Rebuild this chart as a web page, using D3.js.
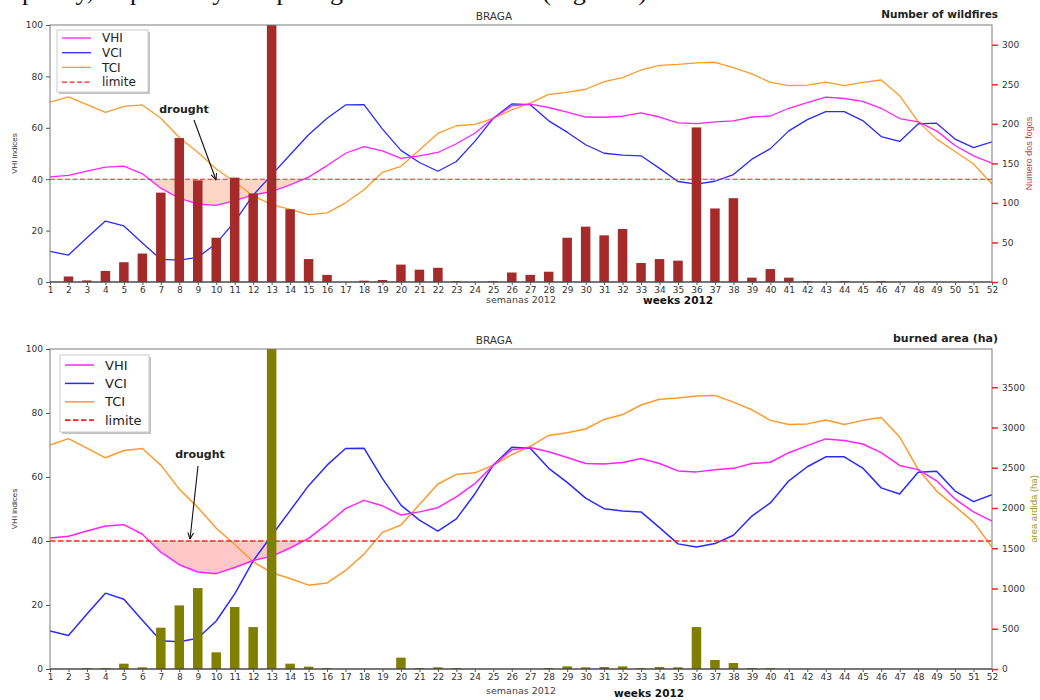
<!DOCTYPE html>
<html>
<head>
<meta charset="utf-8">
<script src="https://cdn.jsdelivr.net/npm/d3@7"></script>
<style>
  html, body { margin: 0; padding: 0; background: #fff; }
  svg { display: block; }
</style>
</head>
<body>
<svg id="chart" width="1040" height="700"></svg>
<script>
// ---------------- data ----------------
const weeks = [1,2,3,4,5,6,7,8,9,10,11,12,13,14,15,16,17,18,19,20,21,22,23,24,25,26,
               27,28,29,30,31,32,33,34,35,36,37,38,39,40,41,42,43,44,45,46,47,48,49,50,51,52];
const vhi = [40.9,41.5,43.1,44.7,45.1,42.1,36.5,32.6,30.3,29.8,
             31.7,33.9,35.2,37.8,40.8,45.3,50.1,52.7,51.0,48.1,
             49.1,50.4,53.8,57.9,63.7,68.5,69.2,67.9,66.1,64.2,
             64.1,64.5,65.8,64.2,61.9,61.6,62.3,62.7,64.2,64.6,
             67.6,69.8,71.9,71.4,70.3,67.6,63.6,62.3,58.8,53.1,
             49.1,46.2];
const vci = [11.9,10.5,17.2,23.7,21.8,15.2,8.8,8.5,9.6,15.0,
             23.5,33.8,41.7,49.5,57.3,63.7,68.9,69.0,59.5,51.2,
             46.5,43.1,46.9,54.7,63.7,69.3,69.0,62.7,58.3,53.4,
             50.1,49.4,49.1,44.2,39.1,38.1,39.2,41.8,47.8,51.9,
             58.8,63.2,66.3,66.3,62.8,56.6,54.7,61.5,61.8,55.6,
             52.3,54.5];
const tci = [70.0,72.0,69.0,66.0,68.3,68.9,63.7,56.2,50.5,44.0,
             38.9,33.5,30.1,28.3,26.2,26.9,30.8,35.9,42.7,45.0,
             51.4,57.8,60.8,61.3,63.7,67.0,69.6,73.0,73.8,75.0,
             78.0,79.5,82.5,84.3,84.7,85.3,85.5,83.4,81.0,77.7,
             76.4,76.6,77.8,76.4,77.7,78.6,72.5,62.4,55.6,50.8,
             45.9,38.1];
const limite = 40;
const fires = [0,7,2,14,25,36,113,182,128.5,56,
               132,112,340,92,29,9,0,1.7,2.5,22,
               15.6,18,1,0,1,12,9,13,56,70,
               59,67,24,29,27,195.5,93,106,5.5,16.4,
               5.5,1.3,0,1.3,0,1.3,0,0,0,0,
               0,0];
const burned = [0,0,12,12,66,21,513,790,1005,207,
                770,521,4100,66,29,12,0,0,0,141,
                12,21,12,0,0,0,0,12,33,21,
                25,33,12,25,21,521,112,74,12,12,
                0,0,0,0,0,0,0,0,0,0,
                0,0];
const indexTicks = [0,20,40,60,80,100];
const fireTicks = [0,50,100,150,200,250,300];
const burnedTicks = [0,500,1000,1500,2000,2500,3000,3500];
const legendLabels = ["VHI","VCI","TCI","limite"];

// ---------------- drawing ----------------
const svg = d3.select("#chart");
const FONT = "DejaVu Sans, Verdana, sans-serif";
const C = { vhi: "#ff22ff", vci: "#2a2aff", tci: "#ff9a2a", lim: "#ff2020" };

// cropped document text above the figure (only descenders visible in the source)
svg.append("text")
  .attr("x", 22).attr("y", 0)
  .attr("font-family", "Liberation Serif, Times New Roman, serif")
  .attr("font-size", 26)
  .attr("fill", "#111")
  .text("plicity, respectively comparing the two indicators (Figure 4)");

function panel(cfg, idx) {
  const g = svg.append("g");
  const x = d3.scaleLinear().domain([1, 52]).range([50, 992]);
  const y = d3.scaleLinear().domain([0, 100]).range([cfg.bot, cfg.top]);
  const y2 = d3.scaleLinear().domain([0, cfg.rMax]).range([cfg.bot, cfg.top]);

  const clipId = "clip" + idx;
  g.append("clipPath").attr("id", clipId).append("rect")
    .attr("x", 50).attr("y", cfg.top).attr("width", 942).attr("height", cfg.bot - cfg.top);
  const fillClip = "fclip" + idx;
  g.append("clipPath").attr("id", fillClip).append("rect")
    .attr("x", 50).attr("y", y(limite)).attr("width", 942).attr("height", cfg.bot - y(limite));

  const plot = g.append("g").attr("clip-path", `url(#${clipId})`);

  // drought fill between VHI and limite
  const area = d3.area().x((d, i) => x(weeks[i])).y0(y(limite)).y1(d => y(d));
  plot.append("g").attr("clip-path", `url(#${fillClip})`)
    .append("path").datum(vhi).attr("d", area).attr("fill", cfg.fill);

  const line = d3.line().x((d, i) => x(weeks[i])).y(d => y(d));
  [["tci", tci], ["vci", vci], ["vhi", vhi]].forEach(([k, arr]) => {
    plot.append("path").datum(arr).attr("d", line)
      .attr("fill", "none").attr("stroke", C[k]).attr("stroke-width", cfg.lw)
      .attr("stroke-linejoin", "round");
  });
  plot.append("line").attr("x1", 50).attr("x2", 992)
    .attr("y1", y(limite)).attr("y2", y(limite))
    .attr("stroke", C.lim).attr("stroke-width", cfg.dlw).attr("stroke-dasharray", cfg.dash);

  // bars (secondary axis)
  const bw = 9.5;
  plot.append("g").selectAll("rect").data(cfg.bars).join("rect")
    .attr("x", (d, i) => x(weeks[i]) - bw / 2)
    .attr("width", bw)
    .attr("y", d => y2(d))
    .attr("height", d => y2(0) - y2(d))
    .attr("fill", cfg.barColor);

  // spines
  const sp = "#7a7a7a";
  g.append("rect").attr("x", 50).attr("y", cfg.top).attr("width", 942).attr("height", cfg.bot - cfg.top)
    .attr("fill", "none").attr("stroke", sp).attr("stroke-width", 1);
  g.append("line").attr("x1", 50).attr("x2", 992).attr("y1", cfg.bot).attr("y2", cfg.bot)
    .attr("stroke", "#333").attr("stroke-width", 1.2);

  // left axis
  const la = d3.axisLeft(y).tickValues(indexTicks).tickFormat(d3.format("d")).tickSize(4).tickPadding(3);
  const lg = g.append("g").attr("transform", "translate(50,0)").call(la);
  lg.select(".domain").remove();
  lg.selectAll("line").attr("stroke", "#555");
  lg.selectAll("text").attr("font-family", FONT).attr("font-size", 9).attr("fill", "#333");

  // bottom axis
  const ba = d3.axisBottom(x).tickValues(weeks).tickFormat(d3.format("d")).tickSize(3).tickPadding(2);
  const bg = g.append("g").attr("transform", `translate(0,${cfg.bot})`).call(ba);
  bg.select(".domain").remove();
  bg.selectAll("line").attr("stroke", "#555");
  bg.selectAll("text").attr("font-family", FONT).attr("font-size", 9).attr("fill", "#333");

  // right axis
  const ra = d3.axisRight(y2).tickValues(cfg.rTicks).tickFormat(d3.format("d")).tickSize(6).tickPadding(4);
  const rg = g.append("g").attr("transform", "translate(992,0)").call(ra);
  rg.select(".domain").remove();
  rg.selectAll("line").attr("stroke", "#ff2020").attr("stroke-width", 1.5);
  rg.selectAll("text").attr("font-family", FONT).attr("font-size", 9).attr("fill", "#333");

  // titles and labels
  g.append("text").attr("x", 494).attr("y", cfg.top - 5).attr("text-anchor", "middle")
    .attr("font-family", FONT).attr("font-size", 10.5).attr("fill", "#333").text("BRAGA");
  g.append("text").attr("x", 998).attr("y", cfg.top - 7).attr("text-anchor", "end")
    .attr("font-family", FONT).attr("font-size", cfg.rtSize).attr("font-weight", "bold")
    .attr("fill", "#222").text(cfg.rTitle);
  g.append("text").attr("x", 521).attr("y", cfg.semY).attr("text-anchor", "middle")
    .attr("font-family", FONT).attr("font-size", 9.5).attr("fill", "#444").text("semanas 2012");
  g.append("text").attr("x", cfg.wkX).attr("y", cfg.wkY)
    .attr("font-family", FONT).attr("font-size", 10.5).attr("font-weight", "bold")
    .attr("fill", "#111").text("weeks 2012");
  const mid = (cfg.top + cfg.bot) / 2;
  g.append("text").attr("transform", `translate(17,${mid}) rotate(-90)`).attr("text-anchor", "middle")
    .attr("font-family", "Liberation Sans, Arial, sans-serif").attr("font-size", 8)
    .attr("fill", "#333").text("VHI indices");
  g.append("text").attr("transform", `translate(${cfg.rlX},${mid}) rotate(-90)`).attr("text-anchor", "middle")
    .attr("font-family", "Liberation Sans, Arial, sans-serif").attr("font-size", cfg.rlSize)
    .attr("fill", cfg.rlColor).text(cfg.rLabel);

  // drought annotation
  g.append("text").attr("x", cfg.dr.tx).attr("y", cfg.dr.ty).attr("text-anchor", "middle")
    .attr("font-family", FONT).attr("font-size", 11).attr("font-weight", "bold")
    .attr("fill", "#222").text("drought");
  const [x1, y1, x2, y2a] = cfg.dr.arrow;
  g.append("line").attr("x1", x1).attr("y1", y1).attr("x2", x2).attr("y2", y2a)
    .attr("stroke", "#111").attr("stroke-width", 1.1);
  const ang = Math.atan2(y2a - y1, x2 - x1);
  const hl = 7, ha = 0.42;
  [ang + Math.PI - ha, ang + Math.PI + ha].forEach(a => {
    g.append("line").attr("x1", x2).attr("y1", y2a)
      .attr("x2", x2 + hl * Math.cos(a)).attr("y2", y2a + hl * Math.sin(a))
      .attr("stroke", "#111").attr("stroke-width", 1.1);
  });

  // legend
  const L = cfg.leg;
  g.append("rect").attr("x", L.x + 2).attr("y", L.y + 2).attr("width", L.w).attr("height", L.h)
    .attr("fill", "#999").attr("opacity", 0.6);
  g.append("rect").attr("x", L.x).attr("y", L.y).attr("width", L.w).attr("height", L.h)
    .attr("fill", "#fff").attr("stroke", "#ccc").attr("stroke-width", 1);
  const legColors = [C.vhi, C.vci, C.tci, C.lim];
  legendLabels.forEach((lab, i) => {
    const ry = L.y + L.r0 + i * L.dy;
    g.append("line").attr("x1", L.x + 5).attr("x2", L.x + 34).attr("y1", ry).attr("y2", ry)
      .attr("stroke", legColors[i]).attr("stroke-width", i === 3 ? cfg.dlw : cfg.lw)
      .attr("stroke-dasharray", i === 3 ? cfg.dash : null);
    g.append("text").attr("x", L.x + 45).attr("y", ry).attr("dy", "0.36em")
      .attr("font-family", FONT).attr("font-size", L.fs).attr("fill", "#222").text(lab);
  });
}

panel({
  top: 25, bot: 282, rMax: 325, rTicks: fireTicks, bars: fires, barColor: "#a52a2a",
  fill: "#fdd6c6", lw: 1.3, dlw: 1.1, dash: "5,2.5",
  rTitle: "Number of wildfires", rtSize: 10.5,
  rLabel: "Numero dos fogos", rlColor: "#b04848", rlSize: 9, rlX: 1032,
  semY: 303, wkX: 643, wkY: 304,
  dr: { tx: 184, ty: 113, arrow: [194, 120, 216, 180] },
  leg: { x: 57, y: 30, w: 91, h: 62, r0: 8, dy: 14.7, fs: 12 }
}, 0);

panel({
  top: 349, bot: 669, rMax: 3975, rTicks: burnedTicks, bars: burned, barColor: "#808000",
  fill: "#ffc8c8", lw: 1.5, dlw: 1.7, dash: "5.5,2.5",
  rTitle: "burned area (ha)", rtSize: 11,
  rLabel: "area ardida (ha)", rlColor: "#9a9a28", rlSize: 9.5, rlX: 1037,
  semY: 694, wkX: 614, wkY: 697,
  dr: { tx: 200, ty: 458, arrow: [198, 466, 190, 539] },
  leg: { x: 60, y: 355, w: 89, h: 77, r0: 10, dy: 18.4, fs: 13 }
}, 1);
</script>
</body>
</html>
